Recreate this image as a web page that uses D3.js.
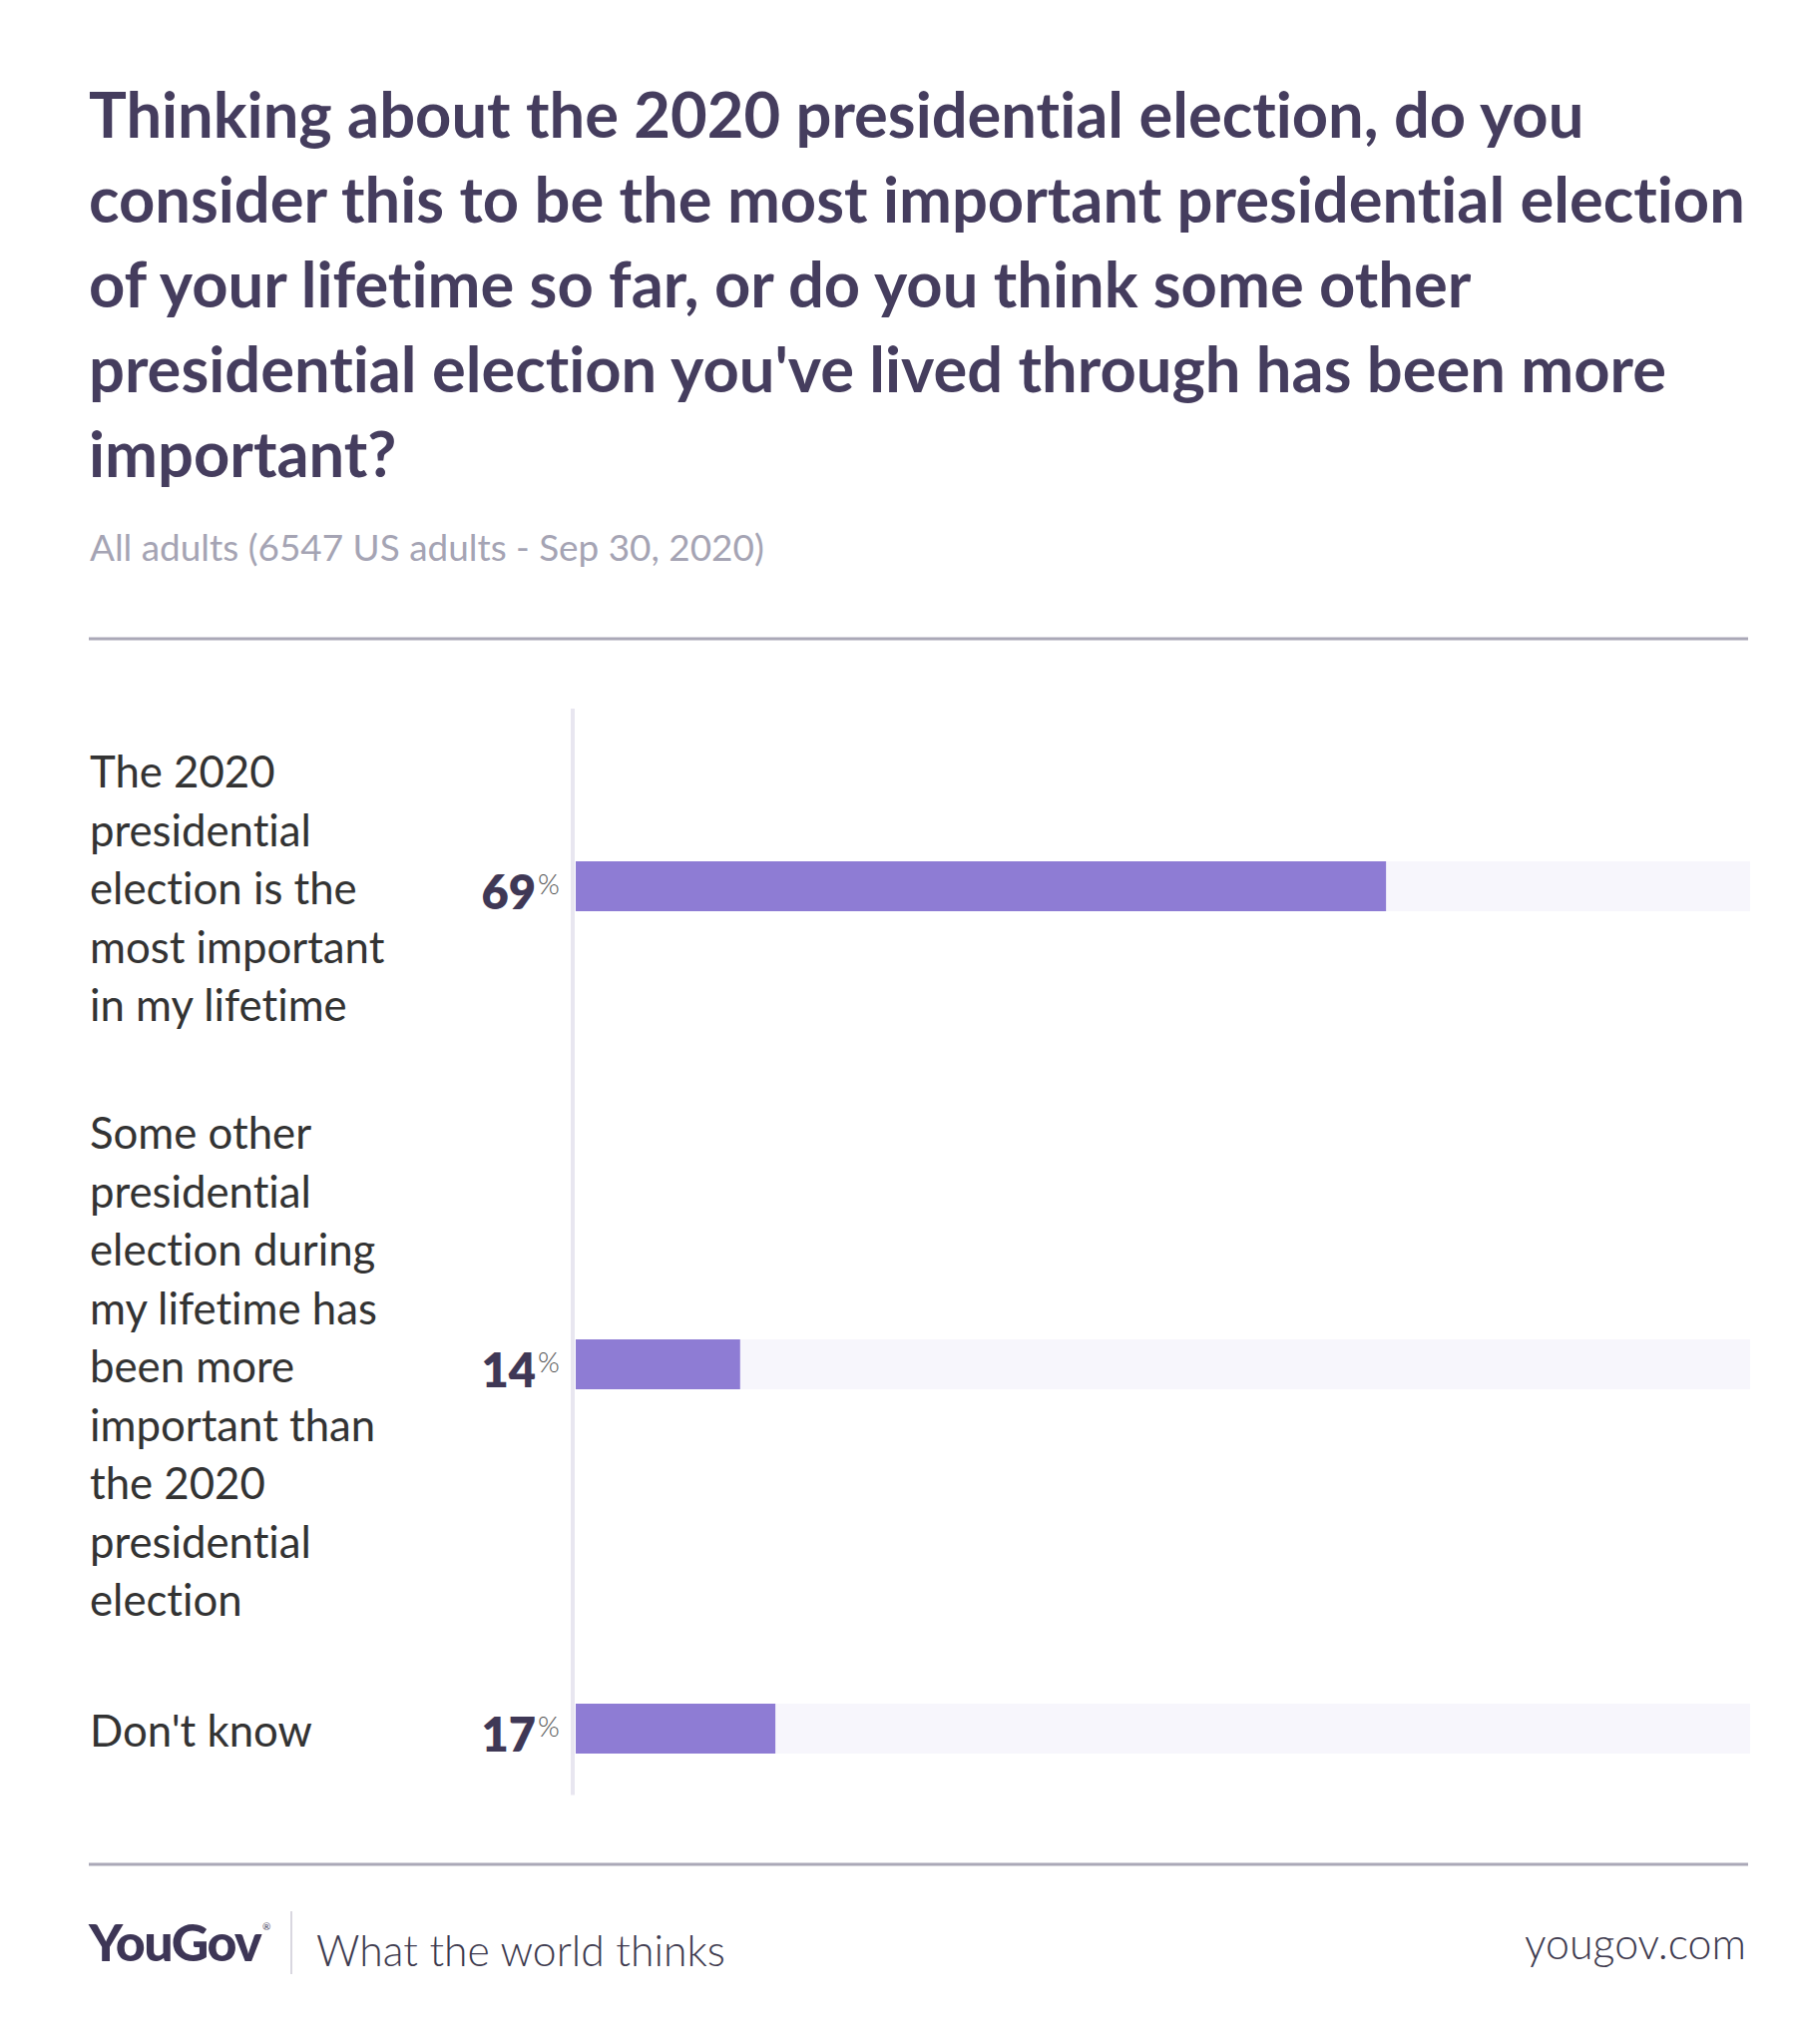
<!DOCTYPE html>
<html>
<head>
<meta charset="utf-8">
<script src="https://cdn.jsdelivr.net/npm/d3@7"></script>
<style>
  html, body { margin: 0; padding: 0; background: #ffffff; }
  svg { display: block; }
  svg text { font-variant-ligatures: none; font-feature-settings: "liga" 0, "clig" 0; }
</style>
</head>
<body>
<svg id="chart" width="1798" height="2048"></svg>
<script>
// ---------- DATA ----------
const titleLines = [
  "Thinking about the 2020 presidential election, do you",
  "consider this to be the most important presidential election",
  "of your lifetime so far, or do you think some other",
  "presidential election you've lived through has been more",
  "important?"
];
const subtitle = "All adults (6547 US adults - Sep 30, 2020)";
const categories = [
  ["The 2020", "presidential", "election is the", "most important", "in my lifetime"],
  ["Some other", "presidential", "election during", "my lifetime has", "been more", "important than", "the 2020", "presidential", "election"],
  ["Don't know"]
];
const values = [69, 14, 17];
const domainMax = 100;
const footerLogo = "YouGov";
const footerTagline = "What the world thinks";
const footerUrl = "yougov.com";

// ---------- STYLE ----------
const W = 1798, H = 2048;
const titleColor = "#453d5e";
const barColor = "#8e7cd4";
const trackColor = "#f7f6fc";
const axisColor = "#e8e6f0";
const ruleColor = "#aaa8b7";
const labelColor = "#333333";

const svg = d3.select("#chart");
svg.append("rect").attr("width", W).attr("height", H).attr("fill", "#fff");

function fit(sel, targetWidth, startSize) {
  sel.attr("font-size", startSize);
  const w = sel.node().getComputedTextLength();
  const s = startSize * targetWidth / w;
  sel.attr("font-size", s);
  return s;
}

// ---------- TITLE ----------
const titleG = svg.append("g");
const tLines = titleG.selectAll("text").data(titleLines).join("text")
  .attr("x", 89)
  .attr("y", (d, i) => 138 + i * 85)
  .attr("font-family", "Lato, 'Noto Sans', sans-serif")
  .attr("font-weight", 700)
  .attr("fill", titleColor)
  .text(d => d);
const tmp = titleG.append("text").attr("font-family", "Lato, 'Noto Sans', sans-serif")
  .attr("font-weight", 700).text(titleLines[1]);
const tSize = fit(tmp, 1660, 56);
tmp.remove();
tLines.attr("font-size", tSize);

const sub = svg.append("text")
  .attr("x", 90).attr("y", 562)
  .attr("font-family", "Lato, sans-serif")
  .attr("font-weight", 400)
  .attr("fill", "#a5a4b4")
  .text(subtitle);
fit(sub, 676, 32);

svg.append("line").attr("x1", 89).attr("x2", 1752).attr("y1", 640).attr("y2", 640)
  .attr("stroke", ruleColor).attr("stroke-width", 3);

// ---------- CHART ----------
const x = d3.scaleLinear().domain([0, domainMax]).range([577, 1754]);
const rowLineH = 57, rowPad = 80, chartTop = 705.5, barH = 50, labelLineH = 58.5;
let acc = chartTop;
const rows = categories.map((lines, i) => {
  const h = lines.length * rowLineH + rowPad;
  const r = { lines, value: values[i], top: acc, h, c: acc + h / 2 };
  acc += h;
  return r;
});

svg.append("line").attr("x1", 574).attr("x2", 574)
  .attr("y1", 710).attr("y2", acc - 2)
  .attr("stroke", axisColor).attr("stroke-width", 4);

const rowG = svg.append("g").selectAll("g").data(rows).join("g");

rowG.append("rect")
  .attr("x", x(0)).attr("width", x(domainMax) - x(0))
  .attr("y", d => d.c - barH / 2).attr("height", barH)
  .attr("fill", trackColor);
rowG.append("rect")
  .attr("x", x(0)).attr("width", d => x(d.value) - x(0))
  .attr("y", d => d.c - barH / 2).attr("height", barH)
  .attr("fill", barColor);

const probe = svg.append("text").attr("font-family", "Lato, sans-serif").text("presidential");
const labSize = fit(probe, 222, 40);
probe.remove();
rowG.each(function(d) {
  const g = d3.select(this);
  const n = d.lines.length;
  g.selectAll("text.lab").data(d.lines).join("text")
    .attr("class", "lab")
    .attr("x", 90)
    .attr("y", (t, i) => d.c + (i - (n - 1) / 2) * labelLineH + 18)
    .attr("font-family", "Lato, sans-serif")
    .attr("font-size", labSize)
    .attr("fill", labelColor)
    .text(t => t);
});

rowG.append("text")
  .attr("x", 537).attr("y", d => d.c + 23)
  .attr("text-anchor", "end")
  .attr("font-family", "Lato, sans-serif")
  .attr("font-weight", 800)
  .attr("font-size", 47)
  .attr("fill", "#3f3856")
  .text(d => d.value);
rowG.append("text")
  .attr("x", 539).attr("y", d => d.c + 8)
  .attr("font-family", "Lato, sans-serif")
  .attr("font-weight", 300)
  .attr("font-size", 28)
  .attr("fill", "#555")
  .text("%");

svg.append("line").attr("x1", 89).attr("x2", 1752).attr("y1", 1868).attr("y2", 1868)
  .attr("stroke", ruleColor).attr("stroke-width", 3);

// ---------- FOOTER ----------
const logo = svg.append("text")
  .attr("x", 89).attr("y", 1965)
  .attr("font-family", "Lato, sans-serif")
  .attr("font-weight", 900)
  .attr("fill", "#3d3656")
  .attr("letter-spacing", -1.5)
  .text(footerLogo);
fit(logo, 172, 50);
svg.append("text")
  .attr("x", 263).attr("y", 1934)
  .attr("font-family", "Lato, sans-serif")
  .attr("font-size", 10)
  .attr("fill", "#3d3656")
  .text("®");
svg.append("line").attr("x1", 292).attr("x2", 292).attr("y1", 1915).attr("y2", 1978)
  .attr("stroke", "#d9d7e0").attr("stroke-width", 2);
const tag = svg.append("text")
  .attr("x", 317).attr("y", 1970)
  .attr("font-family", "Lato, sans-serif")
  .attr("font-weight", 300)
  .attr("fill", "#3d3a4e")
  .text(footerTagline);
fit(tag, 410, 42);
const url = svg.append("text")
  .attr("x", 1750).attr("y", 1963)
  .attr("text-anchor", "end")
  .attr("font-family", "Lato, sans-serif")
  .attr("font-weight", 300)
  .attr("fill", "#3d3a4e")
  .text(footerUrl);
fit(url, 222, 40);
</script>
</body>
</html>
